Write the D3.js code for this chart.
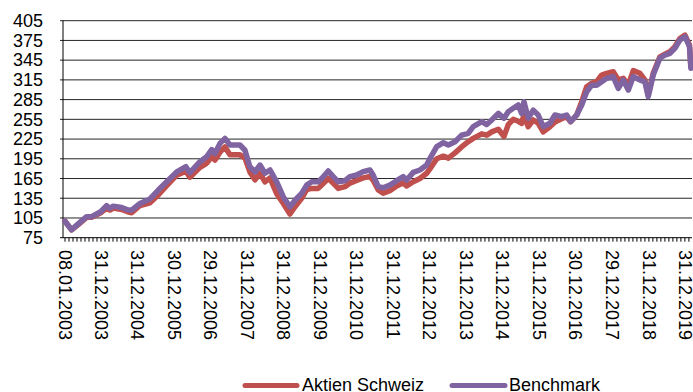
<!DOCTYPE html>
<html>
<head>
<meta charset="utf-8">
<script src="https://cdn.jsdelivr.net/npm/d3@7"></script>
<style>
  html, body { margin: 0; padding: 0; background: #fff; }
  svg { display: block; font-family: "Liberation Sans", Arial, sans-serif; }
</style>
</head>
<body>
<svg id="chart" width="693" height="392"></svg>
<script>
// ---- data ----
const dates = [
  "2003-01-08","2003-03-15","2003-05-20","2003-08-12","2003-10-01","2003-12-31",
  "2004-02-28","2004-04-01","2004-05-05","2004-07-28","2004-10-02","2004-11-05",
  "2005-01-27","2005-05-07","2005-07-29","2005-10-21",
  "2006-01-29","2006-05-01","2006-06-10","2006-09-19","2006-11-24",
  "2007-01-14","2007-02-16","2007-04-07","2007-05-27","2007-07-16","2007-10-24","2007-12-13",
  "2008-01-31","2008-03-22","2008-05-11","2008-06-30","2008-08-19","2008-10-25","2008-12-31",
  "2009-03-07","2009-04-26","2009-07-02","2009-08-21","2009-10-10","2009-12-15",
  "2010-01-18","2010-03-25","2010-05-14","2010-07-03","2010-09-08","2010-10-28",
  "2011-01-03","2011-03-09","2011-05-16","2011-06-18","2011-08-07","2011-09-26","2011-12-01",
  "2012-02-07","2012-04-13","2012-05-17","2012-07-22","2012-09-27","2012-12-03",
  "2013-01-06","2013-03-14","2013-05-19","2013-07-08","2013-09-13","2013-11-18",
  "2014-01-23","2014-03-14","2014-06-07","2014-07-27","2014-09-15","2014-11-20",
  "2015-01-16","2015-02-27","2015-04-18","2015-06-07","2015-07-11","2015-08-03","2015-09-15","2015-11-04","2015-12-24",
  "2016-02-12","2016-04-19","2016-06-08","2016-08-14","2016-10-03","2016-11-12",
  "2017-01-12","2017-03-03","2017-04-22","2017-06-11","2017-07-31","2017-09-19","2017-11-07",
  "2018-01-12","2018-03-04","2018-04-23","2018-06-12","2018-08-01","2018-10-06","2018-11-25","2018-12-28",
  "2019-02-16","2019-04-24","2019-06-13","2019-08-02","2019-09-21","2019-11-10","2019-12-31",
  "2020-02-14","2020-02-28"
];

const aktienSchweiz = [
  100, 87, 95, 106, 106, 113,
  120, 117, 120, 118, 114, 113,
  124, 128, 140, 154,
  170, 176, 167, 182, 188,
  198, 193, 205, 213, 201, 201, 196,
  175, 163, 173, 160, 166, 142, 127,
  111, 122, 135, 148, 150, 150,
  155, 165, 158, 150, 152.6, 158,
  162, 166, 168, 162, 147.5, 142.5, 146.5,
  153.6, 158.6, 153.6, 160, 165, 173,
  180, 195, 199, 196, 204, 213,
  221, 226, 233, 231, 236, 240,
  229, 247, 255, 252, 249, 261.6, 243.8, 254, 249,
  236, 243.8, 251, 256, 259, 251.4,
  261.6, 281.8, 304.6, 309.8, 312.2, 322.4, 325,
  327.4, 315, 317.4, 307.2, 329, 325, 314.8, 292,
  325, 350, 354, 358, 365.4, 378, 383,
  368, 335
];

const benchmark = [
  100, 87, 96, 107, 107, 114.5,
  123.7, 119.7, 123, 121, 117, 117,
  127, 134, 147.5, 160,
  175, 183, 174, 190.6, 198,
  209, 203, 218.5, 226, 216, 216, 208,
  183, 175, 185.5, 173, 178, 160, 137,
  122, 132, 142.5, 155, 160, 160,
  165, 176.4, 168, 160, 161.7, 167.8,
  170.3, 175.4, 178, 170, 152.6, 151, 155,
  161.7, 167.8, 162.7, 174.4, 178, 185.5,
  195.7, 213.4, 219.5, 216, 221, 231,
  233.8, 243.8, 251.4, 247, 254, 264,
  256.6, 266.6, 271.8, 276.8, 264, 281.8, 256.6, 269, 261.6,
  243.8, 249, 261.6, 259, 261.6, 251.4,
  261.6, 276.8, 297, 307, 307, 312.2, 317.4,
  320, 302, 314.8, 299.6, 320, 314.8, 312, 289.4,
  322.4, 347.8, 352.8, 355.4, 363, 375.6, 380.6,
  365.4, 332.6
];

const seriesNames = ["Aktien Schweiz", "Benchmark"];
const seriesColors = ["#C0504D", "#8064A2"];

const yTicks = [75, 105, 135, 165, 195, 225, 255, 285, 315, 345, 375, 405];
const xTickLabels = [
  "08.01.2003","31.12.2003","31.12.2004","30.12.2005","29.12.2006","31.12.2007",
  "31.12.2008","31.12.2009","31.12.2010","31.12.2011","31.12.2012","31.12.2013",
  "31.12.2014","31.12.2015","30.12.2016","29.12.2017","31.12.2018","31.12.2019"
];

// ---- drawing ----
const svg = d3.select("#chart");
const parseISO = d3.timeParse("%Y-%m-%d");
const parseDE = d3.timeParse("%d.%m.%Y");

const x = d3.scaleTime()
  .domain([parseDE("08.01.2003"), parseDE("31.12.2019")])
  .range([65, 685]);
const y = d3.scaleLinear().domain([75, 405]).range([237.7, 20.7]);

const axisX = 63;
const plotRight = 692;

// gridlines
svg.append("g").selectAll("line").data(yTicks.slice(1)).join("line")
  .attr("x1", axisX - 3).attr("x2", plotRight)
  .attr("y1", d => y(d)).attr("y2", d => y(d))
  .attr("stroke", "#262626").attr("stroke-width", 1);

// y labels
svg.append("g").selectAll("text").data(yTicks).join("text")
  .attr("x", 43).attr("y", d => y(d)).attr("dy", "0.35em")
  .attr("text-anchor", "end")
  .attr("font-size", 18).attr("fill", "#000")
  .text(d => d);

// y axis line
svg.append("line")
  .attr("x1", axisX).attr("x2", axisX)
  .attr("y1", y(405)).attr("y2", y(75))
  .attr("stroke", "#000").attr("stroke-width", 1);

// x axis line
svg.append("line")
  .attr("x1", axisX - 3).attr("x2", plotRight)
  .attr("y1", y(75)).attr("y2", y(75))
  .attr("stroke", "#000").attr("stroke-width", 1);

// x tick marks every 40 days
const tickDates = d3.range(0, 160)
  .map(i => d3.timeDay.offset(parseDE("08.01.2003"), i * 40))
  .filter(d => x(d) <= plotRight);
svg.append("g").selectAll("line").data(tickDates).join("line")
  .attr("x1", d => x(d)).attr("x2", d => x(d))
  .attr("y1", y(75)).attr("y2", y(75) + 4)
  .attr("stroke", "#000").attr("stroke-width", 1);

// x labels (rotated)
svg.append("g").selectAll("text").data(xTickLabels).join("text")
  .attr("transform", d => `translate(${x(parseDE(d)) - 6},250) rotate(90)`)
  .attr("text-anchor", "start")
  .attr("font-size", 18).attr("fill", "#000")
  .text(d => d);

// lines
const rows = dates.map((d, i) => ({ date: parseISO(d), a: aktienSchweiz[i], b: benchmark[i] }));
const line = key => d3.line().x(d => x(d.date)).y(d => y(d[key]));

svg.append("path").datum(rows)
  .attr("d", line("a"))
  .attr("fill", "none").attr("stroke", seriesColors[0])
  .attr("stroke-width", 5.5).attr("stroke-linejoin", "round").attr("stroke-linecap", "round");
svg.append("path").datum(rows)
  .attr("d", line("b"))
  .attr("fill", "none").attr("stroke", seriesColors[1])
  .attr("stroke-width", 5.5).attr("stroke-linejoin", "round").attr("stroke-linecap", "round");

// legend
const legendItems = [
  { name: seriesNames[0], color: seriesColors[0], x1: 245, x2: 297, tx: 302 },
  { name: seriesNames[1], color: seriesColors[1], x1: 452, x2: 505, tx: 509 }
];
const lg = svg.append("g");
lg.selectAll("line").data(legendItems).join("line")
  .attr("x1", d => d.x1).attr("x2", d => d.x2)
  .attr("y1", 385.5).attr("y2", 385.5)
  .attr("stroke", d => d.color).attr("stroke-width", 5).attr("stroke-linecap", "round");
lg.selectAll("text").data(legendItems).join("text")
  .attr("x", d => d.tx).attr("y", 391)
  .attr("font-size", 18).attr("fill", "#000")
  .text(d => d.name);
</script>
</body>
</html>
